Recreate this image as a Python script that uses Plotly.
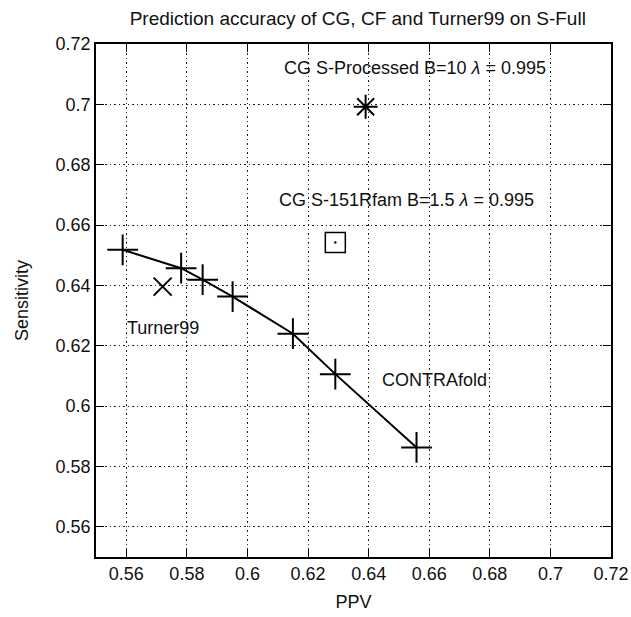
import plotly.graph_objects as go

# CONTRAfold trade-off curve
cf_ppv = [0.5588, 0.5781, 0.5852, 0.5951, 0.6150, 0.6290, 0.6558]
cf_sens = [0.6518, 0.6457, 0.6419, 0.6363, 0.6240, 0.6106, 0.5863]

# single points
turner_ppv, turner_sens = [0.572], [0.6396]
cg_proc_ppv, cg_proc_sens = [0.639], [0.6992]
cg_rfam_ppv, cg_rfam_sens = [0.629], [0.6542]

ticks = [0.56, 0.58, 0.6, 0.62, 0.64, 0.66, 0.68, 0.7, 0.72]
tick_text = ["0.56", "0.58", "0.6", "0.62", "0.64", "0.66", "0.68", "0.7", "0.72"]

FONT = "Liberation Sans, Arial, sans-serif"
FS = 18

fig = go.Figure()
fig.add_trace(go.Scatter(x=cf_ppv, y=cf_sens, mode="lines+markers",
                         line=dict(color="black", width=2),
                         marker=dict(symbol="cross-thin", size=22,
                                     line=dict(color="black", width=2))))
fig.add_trace(go.Scatter(x=turner_ppv, y=turner_sens, mode="markers",
                         marker=dict(symbol="x-thin", size=18,
                                     line=dict(color="black", width=2))))
fig.add_trace(go.Scatter(x=cg_proc_ppv, y=cg_proc_sens, mode="markers",
                         marker=dict(symbol="asterisk", size=20,
                                     line=dict(color="black", width=2))))
fig.add_trace(go.Scatter(x=cg_rfam_ppv, y=cg_rfam_sens, mode="markers",
                         marker=dict(symbol="square-open-dot", size=20, color="black",
                                     line=dict(color="black", width=1.5))))

labels = [
    (0.6114, 0.7121, "CG S-Processed B=10 <i>λ</i> = 0.995"),
    (0.6098, 0.6683, "CG S-151Rfam B=1.5 <i>λ</i> = 0.995"),
    (0.5596, 0.6260, "Turner99"),
    (0.6437, 0.6087, "CONTRAfold"),
]
for x, y, t in labels:
    fig.add_annotation(x=x, y=y, text=t, showarrow=False, xanchor="left",
                       yanchor="middle", font=dict(size=FS, color="#111"))

axis_style = dict(range=[0.55, 0.72], tickvals=ticks, ticktext=tick_text,
                  showgrid=True, gridcolor="#222", griddash="1.5px,3px", gridwidth=1.2,
                  showline=True, linecolor="black", linewidth=1.5, mirror="ticks",
                  ticks="inside", ticklen=8, tickcolor="black",
                  zeroline=False, automargin=False,
                  tickfont=dict(size=FS, color="#111"))

fig.update_xaxes(title=dict(text="PPV", font=dict(size=FS, color="#111"), standoff=12),
                 **axis_style)
fig.update_yaxes(title=dict(text="Sensitivity", font=dict(size=FS, color="#111"), standoff=22),
                 **axis_style)

fig.update_layout(
    width=631, height=617,
    margin=dict(l=96, r=20, t=44, b=60),
    paper_bgcolor="white", plot_bgcolor="white",
    font=dict(family=FONT, color="#111"),
    showlegend=False,
    title=dict(text="Prediction accuracy of CG, CF and Turner99 on S-Full",
               x=0.567, xanchor="center", y=0.97, yanchor="middle",
               font=dict(size=19, color="#111")),
)

# drop the default page margin so the figure sits at the window's corner
fig.write_html("out.html", config={"displayModeBar": False},
               post_script="document.body.style.margin='0';")
